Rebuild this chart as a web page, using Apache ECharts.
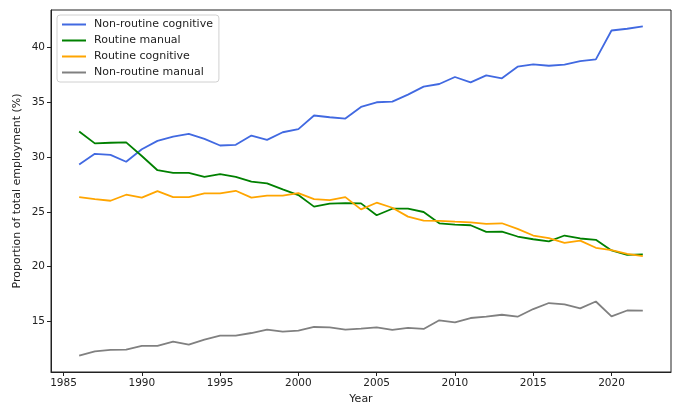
<!DOCTYPE html>
<html>
<head>
<meta charset="utf-8">
<script src="https://cdn.jsdelivr.net/npm/echarts@6/dist/echarts.min.js"></script>
<style>html,body{margin:0;padding:0;background:#fff}#c{width:676px;height:405px}</style>
</head>
<body>
<div id="c"></div>
<script>
const years = [];
for (let y = 1986; y <= 2022; y++) years.push(y);

const nonRoutineCognitive = [29.32,30.30,30.20,29.57,30.72,31.48,31.88,32.12,31.66,31.06,31.12,31.97,31.57,32.27,32.55,33.80,33.64,33.52,34.58,35.01,35.07,35.71,36.44,36.68,37.32,36.83,37.47,37.20,38.26,38.47,38.35,38.45,38.77,38.93,41.57,41.73,41.94];
const routineManual = [32.34,31.25,31.31,31.34,30.10,28.80,28.56,28.56,28.20,28.44,28.20,27.75,27.60,27.05,26.53,25.47,25.74,25.80,25.77,24.68,25.28,25.28,24.98,23.95,23.83,23.77,23.16,23.19,22.74,22.49,22.29,22.83,22.56,22.44,21.47,21.07,21.10];
const routineCognitive = [26.34,26.16,26.01,26.56,26.29,26.89,26.34,26.34,26.68,26.68,26.92,26.30,26.47,26.47,26.71,26.16,26.07,26.34,25.22,25.83,25.37,24.56,24.20,24.17,24.10,24.04,23.89,23.95,23.44,22.83,22.59,22.16,22.37,21.71,21.49,21.16,20.95];
const nonRoutineManual = [11.86,12.25,12.37,12.40,12.74,12.74,13.13,12.86,13.31,13.68,13.68,13.92,14.23,14.04,14.13,14.47,14.44,14.23,14.32,14.44,14.20,14.38,14.29,15.08,14.89,15.29,15.41,15.59,15.41,16.11,16.66,16.53,16.17,16.80,15.44,15.98,15.96];

const xTicks = [1985,1990,1995,2000,2005,2010,2015,2020];
const yTicks = [15,20,25,30,35,40];

const seriesNames = ['Non-routine cognitive','Routine manual','Routine cognitive','Non-routine manual'];
const seriesData = [nonRoutineCognitive, routineManual, routineCognitive, nonRoutineManual];
const colors = ['#4169E1','#008000','#FFA500','#808080'];

const all = seriesData.flat();
const dMin = Math.min(...all), dMax = Math.max(...all);
const yPad = (dMax - dMin) * 0.05;
const xPad = (years[years.length-1] - years[0]) * 0.05;

const font = 'DejaVu Sans';
const chart = echarts.init(document.getElementById('c'), null, {renderer:'canvas'});
chart.setOption({
  animation: false,
  color: colors,
  grid: {left: 51, right: 5, top: 10, bottom: 33, show: true, borderColor: '#222', borderWidth: 1, outerBoundsMode: 'none', containLabel: false},
  legend: {
    orient: 'vertical', left: 57, top: 15,
    icon: 'rect', itemWidth: 24, itemHeight: 2, itemGap: 5,
    padding: [4, 6, 4, 5],
    backgroundColor: 'rgba(255,255,255,0.8)', borderColor: '#d0d0d0', borderWidth: 1, borderRadius: 3,
    textStyle: {fontFamily: font, fontSize: 11, color: '#222', padding: [0,0,0,3]},
    data: seriesNames
  },
  xAxis: {
    type: 'value', min: years[0] - xPad, max: years[years.length-1] + xPad,
    name: 'Year', nameLocation: 'middle', nameGap: 22, nameMoveOverlap: false,
    nameTextStyle: {fontFamily: font, fontSize: 11, color: '#222'},
    axisLine: {show: true, lineStyle: {color: '#222', width: 1}},
    axisTick: {show: true, length: 4, inside: false, customValues: xTicks, lineStyle: {color: '#222'}},
    axisLabel: {customValues: xTicks, margin: 6, fontFamily: font, fontSize: 10.5, color: '#222', formatter: v => String(v)},
    splitLine: {show: false}
  },
  yAxis: {
    type: 'value', min: dMin - yPad, max: dMax + yPad,
    name: 'Proportion of total employment (%)', nameLocation: 'middle', nameGap: 28, nameRotate: 90, nameMoveOverlap: false,
    nameTextStyle: {fontFamily: font, fontSize: 11, color: '#222'},
    axisLine: {show: true, lineStyle: {color: '#222', width: 1}},
    axisTick: {show: true, length: 4, inside: false, customValues: yTicks, lineStyle: {color: '#222'}},
    axisLabel: {customValues: yTicks, margin: 6, fontFamily: font, fontSize: 10.5, color: '#222', formatter: v => String(v)},
    splitLine: {show: false}
  },
  series: seriesNames.map((n, i) => ({
    name: n, type: 'line', symbol: 'none', showSymbol: false,
    lineStyle: {width: 1.8, color: colors[i]},
    data: years.map((y, j) => [y, seriesData[i][j]])
  }))
});
</script>
</body>
</html>
